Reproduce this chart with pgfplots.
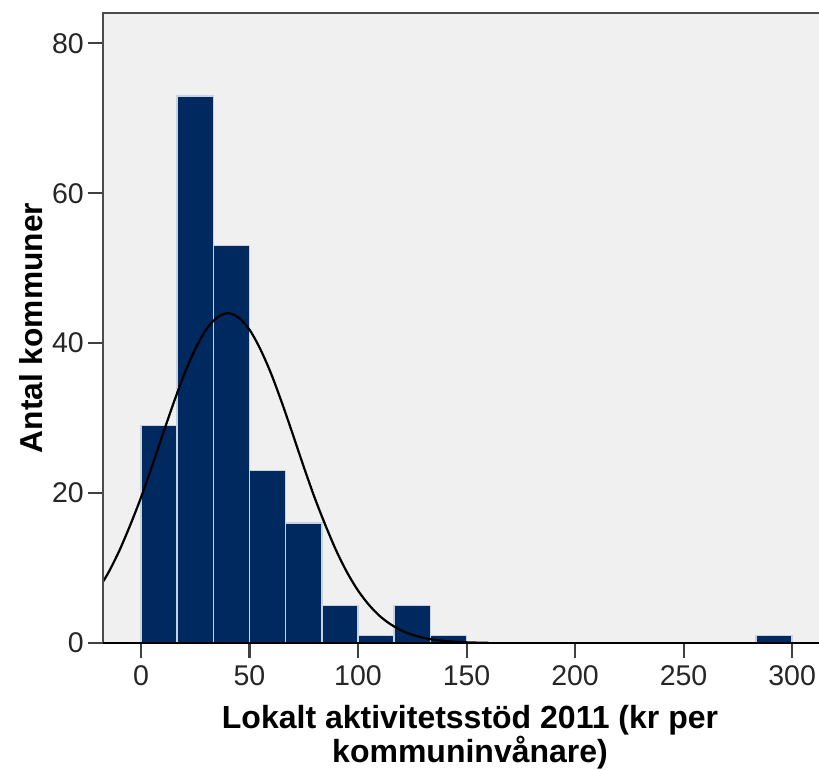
\documentclass[border=0pt]{standalone}
\usepackage{fontspec}
\setmainfont{Liberation Sans}
\usepackage{pgfplots}
\pgfplotsset{compat=1.18}
\definecolor{navy}{RGB}{0,41,96}
\definecolor{edgec}{RGB}{200,210,225}
\definecolor{bgc}{RGB}{240,240,240}
\begin{document}
\begin{tikzpicture}
\begin{axis}[
  scale only axis,
  width=716pt, height=630pt,
  xmin=-17.5, xmax=312.4,
  ymin=0, ymax=84.05,
  axis background/.style={fill=bgc},
  axis line style={draw=none},
  xtick={0,50,100,150,200,250,300},
  ytick={0,20,40,60,80},
  xtick pos=bottom, ytick pos=left,
  tick align=outside,
  major tick length=15pt,
  major tick style={line width=2pt, color=black!75},
  /pgf/number format/assume math mode=true,
  tick label style={font=\fontsize{28.5}{30}\selectfont, text=black!85, inner sep=0pt},
  xticklabel style={yshift=-7pt},
  yticklabel style={xshift=-4pt},
  xlabel={Lokalt aktivitetsstöd 2011 (kr per\\kommuninvånare)},
  xlabel style={at={(rel axis cs:0.5126,-0.0985)}, anchor=north, align=center, inner sep=0pt,
    font=\fontsize{32}{31}\selectfont\bfseries},
  ylabel={Antal kommuner},
  ylabel style={at={(rel axis cs:-0.0838,0.5)}, anchor=south, inner sep=0pt,
    font=\fontsize{31.7}{32}\selectfont\bfseries},
]
\addplot[ybar, bar width=16.667, bar shift=0pt, fill=navy, draw=edgec, line width=1.5pt]
coordinates {(8.333,29) (25,73) (41.667,53) (58.333,23) (75,16) (91.667,5)
 (108.333,1) (125,5) (141.667,1) (291.667,1)};
\addplot[black, line width=2.2pt, smooth, no marks] coordinates {
(-20,7.0) (-15,9.4) (-10,12.3) (-5,15.7) (0,19.4) (5,23.5) (10,27.8) (15,32.0)
(20,35.9) (25,39.2) (30,41.8) (35,43.4) (40,44.0) (45,43.4) (50,41.8) (55,39.2)
(60,35.9) (65,32.0) (70,27.8) (75,23.5) (80,19.4) (85,15.7) (90,12.3) (95,9.4)
(100,7.0) (105,5.1) (110,3.6) (115,2.5) (120,1.68) (125,1.10) (130,0.70)
(135,0.44) (140,0.27) (145,0.16) (150,0.09) (155,0.05) (160,0.03)};
\end{axis}
\draw[black!70, line width=2.5pt] (0,0) -- (0,630pt) -- (716pt,630pt);
\draw[black, line width=2pt] (0,0) -- (716pt,0);
\pgfresetboundingbox
\path[use as bounding box] (-103pt,-126pt) rectangle (716pt,643pt);
\end{tikzpicture}
\end{document}
